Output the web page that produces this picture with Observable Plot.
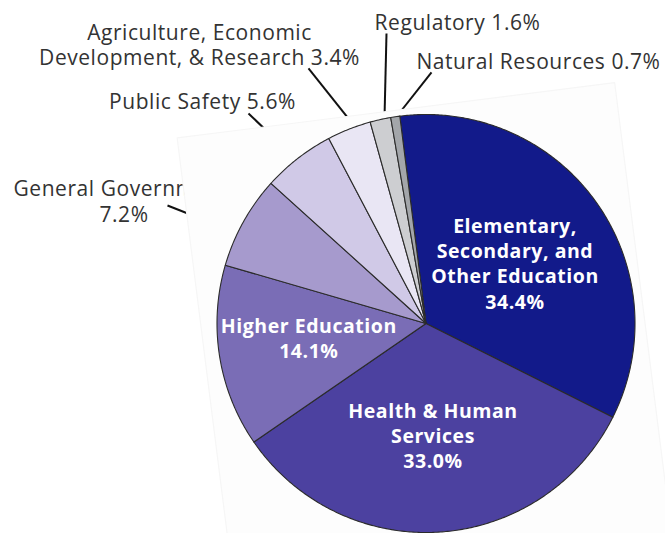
<!DOCTYPE html>
<html>
<head>
<meta charset="utf-8">
<script src="https://cdn.jsdelivr.net/npm/d3@7"></script>
<script src="https://cdn.jsdelivr.net/npm/@observablehq/plot@0.6"></script>
<style>
  html, body { margin: 0; padding: 0; background: #ffffff; }
  #chart svg { display: block; }
  #chart svg text { letter-spacing: 0.55px; }
</style>
</head>
<body>
<div id="chart"></div>
<script>
// ---------- DATA ----------
const categories = [
  "Elementary,\nSecondary, and\nOther Education",
  "Health & Human\nServices",
  "Higher Education",
  "General Government",
  "Public Safety",
  "Agriculture, Economic\nDevelopment, & Research",
  "Regulatory",
  "Natural Resources"
];
const shares = [34.4, 33.0, 14.1, 7.2, 5.6, 3.4, 1.6, 0.7];

// ---------- STYLE / LAYOUT ----------
const palette = ["#121a8a", "#4c41a0", "#7a6db6", "#a69acd", "#d0c9e7", "#e9e6f4", "#cdced1", "#a3a6aa"];
const W = 665, H = 533, R = 209, CX = 425.5, CY = 323;
const tiltDeg = -7.2;
const tilt = tiltDeg * Math.PI / 180;

// label layout in pie-radius units relative to the pie centre (y down)
const insideLayout = [
  {i: 0, x: 0.4258, y: -0.2923},
  {i: 1, x: 0.0335, y: 0.5330},
  {i: 2, x: -0.5608, y: 0.0656}
];
const outsideLayout = [
  {i: 5, x: -1.0837, y: -1.3335, sep: " "},
  {i: 4, x: -1.0694, y: -1.0660, sep: " "},
  {i: 6, x: 0.1507, y: -1.4411, sep: " "},
  {i: 7, x: 0.5383, y: -1.2574, sep: " "}
];
const splitLayout = [ // General Government: name line and value line
  {i: 3, nx: -1.9737, ny: -0.6435, vx: -1.4450, vy: -0.5158}
];
const leaders = [
  {x1: -1.2368, y1: -0.5646, x2: -1.0789, y2: -0.5024},
  {x1: -0.8493, y1: -1.0048, x2: -0.7440, y2: -0.9043},
  {x1: -0.5622, y1: -1.2201, x2: -0.3517, y2: -0.9569},
  {x1: -0.1890, y1: -1.3876, x2: -0.1986, y2: -0.9809},
  {x1: 0.0263, y1: -1.2010, x2: -0.1364, y2: -0.9952}
];
// plot-area box of the (tilted) original chart, in its own frame
const boxLocal = [[-1.07, -1.03], [1.04, -1.03], [1.04, 1.6], [-1.07, 1.6]];

// ---------- BUILD ----------
const fmt = v => d3.format(".1f")(v) + "%";
const arcs = d3.pie().sort(null).startAngle(tilt).endAngle(tilt + 2 * Math.PI)(shares);

const slices = arcs.map((a, i) => {
  const pts = [{x: 0, y: 0}];
  const n = Math.max(2, Math.ceil((a.endAngle - a.startAngle) / (Math.PI / 360)));
  for (let k = 0; k <= n; k++) {
    const ang = a.startAngle + (a.endAngle - a.startAngle) * k / n;
    pts.push({x: Math.sin(ang), y: -Math.cos(ang)});
  }
  return {pts, color: palette[i]};
});

const th = -tiltDeg * Math.PI / 180;
const box = boxLocal.map(([x, y]) => ({
  x: x * Math.cos(th) + y * Math.sin(th),
  y: -x * Math.sin(th) + y * Math.cos(th)
}));

const insideLabels = insideLayout.map(d => ({x: d.x, y: d.y, text: categories[d.i] + "\n" + fmt(shares[d.i])}));
const outsideLabels = outsideLayout.map(d => ({x: d.x, y: d.y, text: categories[d.i] + d.sep + fmt(shares[d.i])}));
const splitNames = splitLayout.map(d => ({x: d.nx, y: d.ny, text: categories[d.i]}));
const splitValues = splitLayout.map(d => ({x: d.vx, y: d.vy, text: fmt(shares[d.i])}));

const outerFont = {fontFamily: "Open Sans", fontSize: 21, fill: "#333333"};

const marks = [
  Plot.link(leaders, {x1: "x1", y1: "y1", x2: "x2", y2: "y2", stroke: "#111111", strokeWidth: 2}),
  Plot.text(outsideLabels, {x: "x", y: "y", text: "text", textAnchor: "middle", lineHeight: 1.19, ...outerFont}),
  Plot.text(splitNames, {x: "x", y: "y", text: "text", textAnchor: "start", ...outerFont}),
  Plot.text(splitValues, {x: "x", y: "y", text: "text", textAnchor: "middle", ...outerFont}),
  Plot.line(box, {x: "x", y: "y", curve: "linear-closed", fill: "#fdfdfd", stroke: "#f6f6f6", strokeWidth: 1.2}),
  ...slices.map(s => Plot.line(s.pts, {x: "x", y: "y", curve: "linear-closed", fill: s.color, stroke: "#2b2b2b", strokeWidth: 1.1, strokeLinejoin: "round"})),
  Plot.text(insideLabels, {x: "x", y: "y", text: "text", textAnchor: "middle", lineHeight: 1.3, fontFamily: "Open Sans", fontWeight: "bold", fontSize: 19.5, fill: "#ffffff"})
];

const chart = Plot.plot({
  width: W,
  height: H,
  margin: 0,
  x: {domain: [-CX / R, (W - CX) / R], range: [0, W], axis: null},
  y: {domain: [-CY / R, (H - CY) / R], range: [0, H], axis: null},
  style: {background: "#ffffff", fontFamily: "Open Sans", overflow: "visible"},
  marks
});
document.getElementById("chart").appendChild(chart);
</script>
</body>
</html>
